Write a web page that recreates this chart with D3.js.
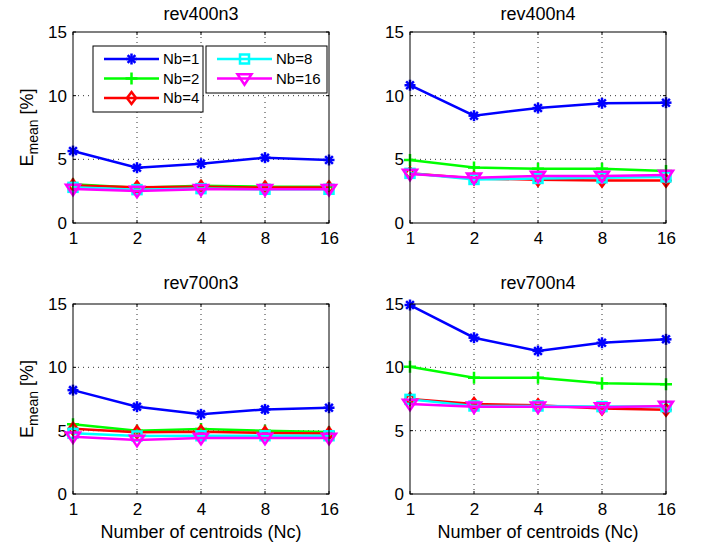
<!DOCTYPE html>
<html><head><meta charset="utf-8">
<script src="https://cdn.jsdelivr.net/npm/d3@7"></script>
<style>body{margin:0;background:#fff}svg{display:block}text{font-family:"Liberation Sans",Arial,sans-serif;fill:#000}</style>
</head><body><svg id="c" width="702" height="547"></svg>
<script>
const categories = ["1","2","4","8","16"];
const yTicks = [0,5,10,15];
const seriesNames = ["Nb=1","Nb=2","Nb=4","Nb=8","Nb=16"];
const seriesColors = ["#0000ff","#00ff00","#ff0000","#00ffff","#ff00ff"];
const seriesMarkers = ["asterisk","plus","diamond","square","triangle"];
const panelTitles = ["rev400n3","rev400n4","rev700n3","rev700n4"];
const rev400n3 = [
  [5.65,4.34,4.66,5.13,4.95],
  [3.04,2.77,2.93,2.85,2.85],
  [2.95,2.8,2.85,2.78,2.78],
  [2.8,2.62,2.7,2.65,2.65],
  [2.67,2.51,2.65,2.65,2.65]];
const rev400n4 = [
  [10.82,8.43,9.03,9.4,9.45],
  [4.95,4.35,4.27,4.27,4.08],
  [3.9,3.5,3.4,3.33,3.33],
  [3.9,3.42,3.5,3.55,3.62],
  [3.85,3.56,3.69,3.69,3.77]];
const rev700n3 = [
  [8.2,6.89,6.29,6.68,6.81],
  [5.5,5.0,5.13,5.0,4.89],
  [5.15,4.88,4.92,4.82,4.78],
  [4.79,4.58,4.6,4.6,4.6],
  [4.52,4.26,4.42,4.42,4.42]];
const rev700n4 = [
  [14.92,12.34,11.29,11.94,12.21],
  [10.05,9.18,9.18,8.74,8.66],
  [7.5,7.1,7.0,6.75,6.65],
  [7.47,6.95,6.95,6.9,6.9],
  [7.1,6.89,6.89,6.84,6.95]];
const panelData = [rev400n3, rev400n4, rev700n3, rev700n4];

const svg = d3.select("#c");
const panels = [
  {x0:73,x1:329,y0:32,y1:223,ty:20},
  {x0:410,x1:666,y0:32,y1:223,ty:20},
  {x0:73,x1:329,y0:304,y1:494,ty:289},
  {x0:410,x1:666,y0:304,y1:494,ty:289}];

function drawMarker(g, type, color, x, y){
  if(type==="asterisk"){
    const r=5.5;
    for(let a=0;a<4;a++){
      const t=a*Math.PI/4;
      g.append("line").attr("x1",x-r*Math.cos(t)).attr("y1",y-r*Math.sin(t))
       .attr("x2",x+r*Math.cos(t)).attr("y2",y+r*Math.sin(t))
       .attr("stroke",color).attr("stroke-width",2.5);
    }
  } else if(type==="plus"){
    const r=6;
    g.append("path").attr("d",`M${x-r},${y}H${x+r}M${x},${y-r}V${y+r}`)
     .attr("stroke",color).attr("stroke-width",2.5).attr("fill","none");
  } else if(type==="diamond"){
    const r=6;
    g.append("path").attr("d",`M${x},${y-r}L${x+r*0.75},${y}L${x},${y+r}L${x-r*0.75},${y}Z`)
     .attr("stroke",color).attr("stroke-width",2.5).attr("fill","none");
  } else if(type==="square"){
    const r=4.5;
    g.append("rect").attr("x",x-r).attr("y",y-r).attr("width",2*r).attr("height",2*r)
     .attr("stroke",color).attr("stroke-width",2.5).attr("fill","none");
  } else if(type==="triangle"){
    const r=7;
    g.append("path").attr("d",`M${x-r},${y-r*0.6}L${x+r},${y-r*0.6}L${x},${y+r*0.9}Z`)
     .attr("stroke",color).attr("stroke-width",2.5).attr("fill","none").attr("stroke-linejoin","miter");
  }
}

panels.forEach((p,i)=>{
  const g = svg.append("g");
  const x = d3.scalePoint().domain(categories).range([p.x0,p.x1]);
  const y = d3.scaleLinear().domain([0,15]).range([p.y1,p.y0]);
  categories.slice(1,-1).forEach(c=>{
    g.append("line").attr("x1",x(c)).attr("x2",x(c)).attr("y1",p.y0).attr("y2",p.y1)
     .attr("stroke","#333").attr("stroke-width",1).attr("stroke-dasharray","1,4");
  });
  yTicks.slice(1,-1).forEach(v=>{
    g.append("line").attr("x1",p.x0).attr("x2",p.x1).attr("y1",y(v)).attr("y2",y(v))
     .attr("stroke","#333").attr("stroke-width",1).attr("stroke-dasharray","1,4");
  });
  const ax = g.append("g").attr("transform",`translate(0,${p.y1})`)
    .call(d3.axisBottom(x).tickSize(0).tickPadding(9));
  ax.select(".domain").remove();
  ax.selectAll("text").attr("font-size",17).attr("font-family","Liberation Sans, Arial, sans-serif").attr("fill","#000");
  const ay = g.append("g").attr("transform",`translate(${p.x0},0)`)
    .call(d3.axisLeft(y).tickValues(yTicks).tickSize(0).tickPadding(6).tickFormat(d3.format("d")));
  ay.select(".domain").remove();
  ay.selectAll("text").attr("font-size",17).attr("font-family","Liberation Sans, Arial, sans-serif").attr("fill","#000");
  categories.forEach(c=>{
    g.append("line").attr("x1",x(c)).attr("x2",x(c)).attr("y1",p.y1).attr("y2",p.y1-3).attr("stroke","#000");
    g.append("line").attr("x1",x(c)).attr("x2",x(c)).attr("y1",p.y0).attr("y2",p.y0+3).attr("stroke","#000");
  });
  yTicks.forEach(v=>{
    g.append("line").attr("x1",p.x0).attr("x2",p.x0+3).attr("y1",y(v)).attr("y2",y(v)).attr("stroke","#000");
    g.append("line").attr("x1",p.x1).attr("x2",p.x1-3).attr("y1",y(v)).attr("y2",y(v)).attr("stroke","#000");
  });
  const line = d3.line().x((d,j)=>x(categories[j])).y(d=>y(d));
  panelData[i].forEach((vals,s)=>{
    g.append("path").datum(vals).attr("d",line).attr("fill","none")
     .attr("stroke",seriesColors[s]).attr("stroke-width",2.5);
    vals.forEach((v,j)=>drawMarker(g,seriesMarkers[s],seriesColors[s],x(categories[j]),y(v)));
  });
  g.append("rect").attr("x",p.x0).attr("y",p.y0).attr("width",p.x1-p.x0).attr("height",p.y1-p.y0)
   .attr("fill","none").attr("stroke","#000").attr("stroke-width",1);
  g.append("text").attr("x",(p.x0+p.x1)/2).attr("y",p.ty).attr("text-anchor","middle")
   .attr("font-size",18).text(panelTitles[i]);
  if(i%2===0){
    const t = g.append("text").attr("transform",`translate(33,${(p.y0+p.y1)/2}) rotate(-90)`)
      .attr("text-anchor","middle").attr("font-size",18);
    t.append("tspan").text("E");
    t.append("tspan").attr("font-size",14).attr("dy",5).text("mean");
    t.append("tspan").attr("dy",-5).text(" [%]");
  }
  if(i>=2){
    g.append("text").attr("x",(p.x0+p.x1)/2).attr("y",538).attr("text-anchor","middle")
     .attr("font-size",18).text("Number of centroids (Nc)");
  }
});

const lg = svg.append("g");
const boxes = [{x:93,y:46,w:110,h:66,items:[0,1,2]},{x:206,y:46,w:121,h:47,items:[3,4]}];
boxes.forEach(b=>{
  lg.append("rect").attr("x",b.x).attr("y",b.y).attr("width",b.w).attr("height",b.h)
    .attr("fill","#fff").attr("stroke","#000").attr("stroke-width",1);
  b.items.forEach((s,k)=>{
    const yy = b.y+13+k*19.5;
    const lx0=b.x+11, lx1=b.x+66;
    lg.append("line").attr("x1",lx0).attr("x2",lx1).attr("y1",yy).attr("y2",yy)
      .attr("stroke",seriesColors[s]).attr("stroke-width",2.5);
    drawMarker(lg,seriesMarkers[s],seriesColors[s],(lx0+lx1)/2,yy);
    lg.append("text").attr("x",lx1+4).attr("y",yy+5).attr("font-size",15).text(seriesNames[s]);
  });
});
</script></body></html>
